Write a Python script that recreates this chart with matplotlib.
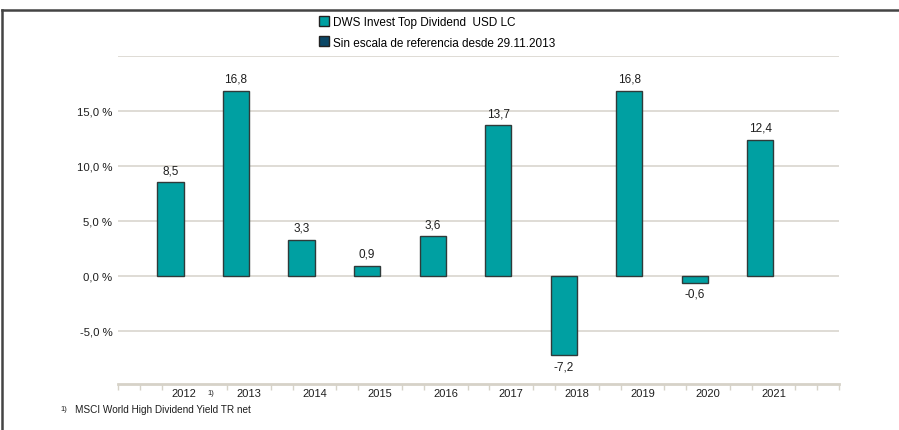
import numpy as np
import matplotlib.pyplot as plt
from matplotlib.lines import Line2D

plt.rcParams['font.family'] = ['Liberation Sans', 'DejaVu Sans']

years = ['2012', '2013', '2014', '2015', '2016', '2017', '2018', '2019', '2020', '2021']
fund = [8.5, 16.8, 3.3, 0.9, 3.6, 13.7, -7.2, 16.8, -0.6, 12.4]
yticks = [-5, 0, 5, 10, 15]
series_names = ['DWS Invest Top Dividend  USD LC', 'Sin escala de referencia desde 29.11.2013']
footnote = 'MSCI World High Dividend Yield TR net'

teal = '#00a0a2'
navy = '#0b4766'
grid_c = '#dcd9d2'
text_c = '#1e1e1e'

fig = plt.figure(figsize=(8.99, 4.31), dpi=100)
ax = fig.add_axes([118 / 899, 46 / 431, 721 / 899, 328 / 431])

pos = np.arange(1, len(years) + 1)
ax.bar(pos - 0.2, fund, width=0.4, color=teal, edgecolor='#2f3a3a', linewidth=1.0, zorder=3)

for x, v in zip(pos, fund):
    lab = f'{v:.1f}'.replace('.', ',')
    if v >= 0:
        ax.annotate(lab, (x - 0.2, v), xytext=(0, 4.5), textcoords='offset points',
                    ha='center', va='bottom', fontsize=8.5, color=text_c)
    else:
        ax.annotate(lab, (x - 0.2, v), xytext=(0, -3.5), textcoords='offset points',
                    ha='center', va='top', fontsize=8.5, color=text_c)

ax.set_xlim(0, 11)
ax.set_ylim(-9.82, 20)

for g in yticks + [20]:
    ax.axhline(g, color=grid_c, linewidth=1.3, zorder=1)

for s in ['top', 'right', 'left']:
    ax.spines[s].set_visible(False)
ax.spines['bottom'].set_color('#d6d2c8')
ax.spines['bottom'].set_linewidth(2.0)

ax.set_yticks(yticks)
ax.set_yticklabels([f'{t:.1f}'.replace('.', ',') + ' %' for t in yticks], fontsize=8.2, color=text_c)
ax.tick_params(axis='y', length=0, pad=4)

ax.set_xticks(pos)
ax.set_xticklabels(years, fontsize=8, color=text_c)
ax.tick_params(axis='x', length=0, pad=3)

# small ticks every third of a category, skipped under the labels
minor = [k / 3 for k in range(0, 34) if k % 3 != 0 and k != 4]
minor = [0.0] + minor + [11.0]
ax.set_xticks(minor, minor=True)
ax.tick_params(axis='x', which='minor', length=4, width=1.0, color='#d6d2c8')

ax.annotate('1)', (1, -9.82), xytext=(20, -6), textcoords='offset points',
            ha='center', va='center', fontsize=5.5, color=text_c)

# legend
handles = [Line2D([], [], marker='s', linestyle='none', markersize=7,
                  markerfacecolor=teal, markeredgecolor='#222222'),
           Line2D([], [], marker='s', linestyle='none', markersize=7,
                  markerfacecolor=navy, markeredgecolor='#222222')]
fig.legend(handles, series_names, loc='upper left', bbox_to_anchor=(313 / 899, 1 - 12 / 431),
           frameon=False, fontsize=8.5, handletextpad=0.3, labelspacing=0.75,
           handlelength=1.0, borderaxespad=0)

# footnote
fig.text(60 / 899, 1 - 410 / 431, '1)', fontsize=5.5, color=text_c, va='center')
fig.text(75 / 899, 1 - 410 / 431, footnote, fontsize=7.2, color=text_c, va='center')

# frame
fig.add_artist(Line2D([2 / 899, 1], [1 - 11 / 431, 1 - 11 / 431], color='#444444', linewidth=1.8))
fig.add_artist(Line2D([2 / 899, 2 / 899], [0, 1 - 11 / 431], color='#444444', linewidth=1.8))

fig.savefig('out.png', dpi=100)
